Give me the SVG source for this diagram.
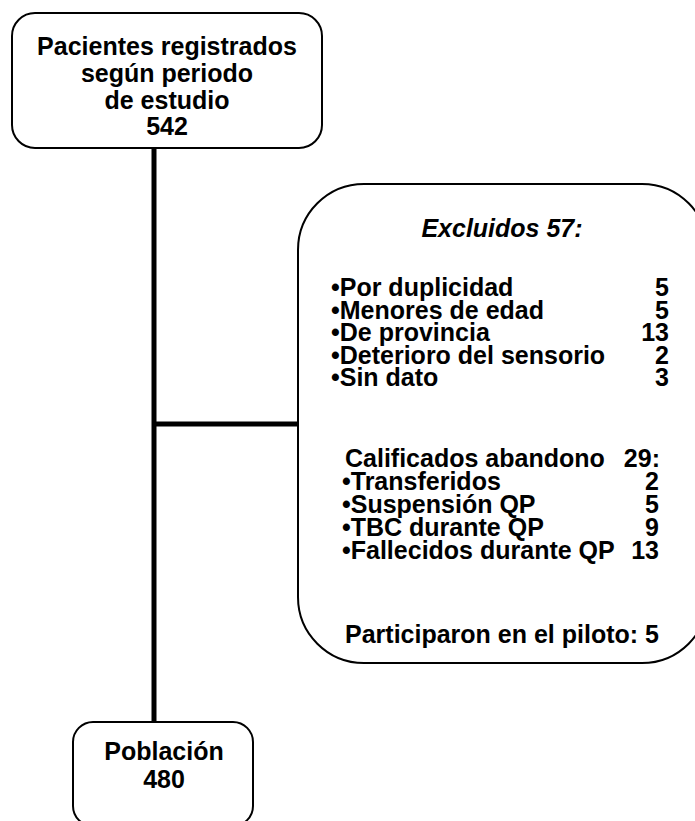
<svg xmlns="http://www.w3.org/2000/svg" width="695" height="821" viewBox="0 0 695 821">
<style>
.box{fill:#fff;stroke:#000;stroke-width:2}
.t{font-family:"Liberation Sans",Arial,sans-serif;font-weight:bold;font-size:25px;fill:#000}
.c{text-anchor:middle}
.e{text-anchor:end}
.conn{stroke:#000;stroke-width:5;fill:none}
</style>
<g id="connectors">
<line class="conn" x1="154" y1="148" x2="154" y2="723"/>
<line class="conn" x1="154" y1="424" x2="297" y2="424"/>
</g>
<g id="registrados">
<rect class="box" x="12" y="13" width="310" height="135" rx="23"/>
<text class="t c" x="167" y="55">Pacientes registrados</text>
<text class="t c" x="167" y="81.5">según periodo</text>
<text class="t c" x="167" y="108.5">de estudio</text>
<text class="t c" x="167" y="135">542</text>
</g>
<g id="excluidos">
<rect class="box" x="298" y="184" width="410" height="479" rx="66"/>
<text class="t c" x="502" y="237" font-style="italic">Excluidos 57:</text>
<text class="t"><tspan x="331" y="296">•Por duplicidad</tspan><tspan x="331" y="318.5">•Menores de edad</tspan><tspan x="331" y="341">•De provincia</tspan><tspan x="331" y="363.5">•Deterioro del sensorio</tspan><tspan x="331" y="386">•Sin dato</tspan></text>
<text class="t e"><tspan x="669" y="296">5</tspan><tspan x="669" y="318.5">5</tspan><tspan x="669" y="341">13</tspan><tspan x="669" y="363.5">2</tspan><tspan x="669" y="386">3</tspan></text>
<text class="t"><tspan x="345" y="467">Calificados abandono</tspan><tspan x="342" y="490">•Transferidos</tspan><tspan x="342" y="513">•Suspensión QP</tspan><tspan x="342" y="536">•TBC durante QP</tspan><tspan x="342" y="559">•Fallecidos durante QP</tspan></text>
<text class="t e"><tspan x="660" y="467">29:</tspan><tspan x="659" y="490">2</tspan><tspan x="659" y="513">5</tspan><tspan x="659" y="536">9</tspan><tspan x="659" y="559">13</tspan></text>
<text class="t" x="345" y="643">Participaron en el piloto: 5</text>
</g>
<g id="poblacion">
<rect class="box" x="73" y="722" width="180" height="104" rx="20"/>
<text class="t c" x="164" y="760">Población</text>
<text class="t c" x="164" y="788">480</text>
</g>
</svg>
